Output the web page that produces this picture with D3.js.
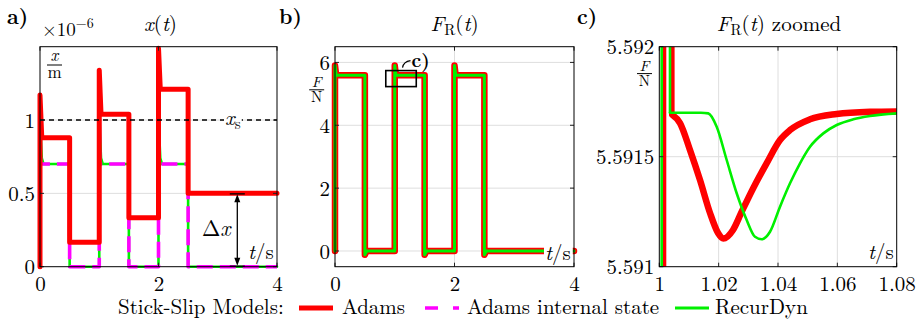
<!DOCTYPE html>
<html><head><meta charset="utf-8">
<script src="https://cdn.jsdelivr.net/npm/d3@7"></script>
</head><body style="margin:0;background:#fff">
<svg id="chart" width="923" height="324" font-family="Latin Modern Roman" style="display:block"></svg>
<script>
// ---------------- DATA ----------------
// Panel a: displacement x(t) in 1e-6 m
const adamsX = [[0,0],[0,1.17],[0.03,0.88],[0.5,0.88],[0.5,0.166],[1.0,0.166],[1.0,1.34],[1.03,1.04],[1.5,1.04],[1.5,0.334],[2.0,0.334],[2.0,1.49],[2.03,1.21],[2.5,1.21],[2.5,0.5],[4,0.5]];
const internalX = [[0,0],[0,1.0],[0.01,0.7],[0.5,0.7],[0.5,0],[1.0,0],[1.0,1.0],[1.01,0.7],[1.5,0.7],[1.5,0],[2.0,0],[2.0,1.0],[2.01,0.7],[2.5,0.7],[2.5,0],[4,0]];
const recurX = [[0,0],[0,1.17],[0.01,0.92],[0.03,0.74],[0.06,0.7],[0.5,0.7],[0.5,0],[1.0,0],[1.0,1.17],[1.01,0.92],[1.03,0.74],[1.06,0.7],[1.5,0.7],[1.5,0],[2.0,0],[2.0,1.17],[2.01,0.92],[2.03,0.74],[2.06,0.7],[2.5,0.7],[2.5,0],[4,0]];
const xsValue = 1;          // stick threshold x_s
const deltaXAt = 3.33;      // t position of the Delta x arrow
const deltaXRange = [0.5, 0];

// Panel b: friction force F_R(t) in N
const adamsF = [[0,0],[0,5.9],[0.02,5.59],[0.5,5.59],[0.5,-0.12],[0.53,0],[1.0,0],[1.0,5.9],[1.02,5.59],[1.5,5.59],[1.5,-0.12],[1.53,0],[2.0,0],[2.0,5.9],[2.02,5.59],[2.5,5.59],[2.5,-0.12],[2.53,0],[4,0]];
const recurF = [[0,0],[0,5.9],[0.02,5.59],[0.5,5.59],[0.5,-0.12],[0.53,0],[1.0,0],[1.0,5.9],[1.02,5.59],[1.5,5.59],[1.5,-0.12],[1.53,0],[2.0,0],[2.0,5.9],[2.02,5.59],[2.5,5.59],[2.5,-0.12],[2.53,0],[4,0]];
const zoomBox = {t: [0.85, 1.36], f: [5.23, 5.74]};

// Panel c: zoomed F_R(t)
const adamsCJump = [[1.0016,0],[1.0016,5.9],[1.0044,5.9],[1.0044,5.59169]];
const adamsCCurve = [[1.0044,5.59169],[1.00698,5.591653],[1.01035,5.59153],[1.01372,5.591394],[1.01709,5.591244],[1.01979,5.591153],[1.02157,5.591128],[1.02484,5.591167],[1.02777,5.59125],[1.03168,5.591358],[1.0362,5.591471],[1.04068,5.591576],[1.04405,5.591621],[1.05079,5.59167],[1.05979,5.591694],[1.07101,5.591704],[1.08,5.591706]];
const recurCJump = [[1.0008,0],[1.0008,5.9],[1.0036,5.9],[1.0036,5.5917]];
const recurCCurve = [[1.0036,5.5917],[1.014,5.5917],[1.01651,5.591697],[1.01934,5.591636],[1.02271,5.591485],[1.02608,5.591334],[1.02945,5.591212],[1.03225,5.591136],[1.03451,5.591125],[1.03731,5.591159],[1.04068,5.591273],[1.04405,5.591379],[1.04742,5.59147],[1.05079,5.591545],[1.05527,5.591606],[1.05979,5.591644],[1.06538,5.59167],[1.07101,5.591685],[1.08,5.591697]];

// Ticks
const xTicksA = [0,2,4], xTickLabelsA = ["0","2","4"];
const yTicksA = [0,0.5,1], yTickLabelsA = ["0","0.5","1"];
const xTicksB = [0,2,4], xTickLabelsB = ["0","2","4"];
const yTicksB = [0,2,4,6], yTickLabelsB = ["0","2","4","6"];
const xTicksC = [1,1.02,1.04,1.06,1.08], xTickLabelsC = ["1","1.02","1.04","1.06","1.08"];
const yTicksC = [5.591,5.5915,5.592], yTickLabelsC = ["5.591","5.5915","5.592"];

const legendLabels = ["Adams","Adams internal state","RecurDyn"];
const legendTitle = "Stick-Slip Models:";

// ---------------- STYLE ----------------
const FONT = "Latin Modern Roman";
const RED = "#ff0000", MAG = "#ff00ff", GRN = "#00f000";
const GRID = "#dedede";
const FS = 21;

const svg = d3.select("#chart");

function txt(parent, x, y, size){
  return parent.append("text").attr("x", x).attr("y", y).attr("font-family", FONT).attr("font-size", size || FS).attr("fill", "#000");
}

function panel(o){
  const g = svg.append("g");
  const x = d3.scaleLinear().domain(o.xd).range([o.l, o.r]);
  const y = d3.scaleLinear().domain(o.yd).range([o.b, o.t]);
  const id = "clip" + Math.random().toString(36).slice(2);
  svg.append("clipPath").attr("id", id).append("rect")
    .attr("x", o.l).attr("y", o.t).attr("width", o.r - o.l).attr("height", o.b - o.t);
  const grid = g.append("g");
  (o.xGrid||[]).forEach(v => grid.append("line").attr("x1", x(v)).attr("x2", x(v)).attr("y1", o.t).attr("y2", o.b).attr("stroke", GRID).attr("stroke-width", 1));
  (o.yGrid||[]).forEach(v => grid.append("line").attr("y1", y(v)).attr("y2", y(v)).attr("x1", o.l).attr("x2", o.r).attr("stroke", GRID).attr("stroke-width", 1));
  const data = g.append("g");
  return {g, data, x, y, o, clip: "url(#" + id + ")"};
}

function frame(p){
  const {x, y, o} = p;
  const f = svg.append("g");
  const tl = 4;
  const ax = d3.axisBottom(x).tickValues(o.xt).tickFormat((d,i)=>o.xtl[i]).tickSize(0).tickPadding(0);
  const axg = f.append("g").attr("transform", `translate(0,${o.b})`).call(ax)
    .attr("font-family", FONT).attr("font-size", FS);
  axg.select(".domain").remove();
  axg.selectAll("text").attr("y", 24).attr("dy", null).attr("fill", "#000");
  const ay = d3.axisLeft(y).tickValues(o.yt).tickFormat((d,i)=>o.ytl[i]).tickSize(0).tickPadding(0);
  const ayg = f.append("g").attr("transform", `translate(${o.l},0)`).call(ay)
    .attr("font-family", FONT).attr("font-size", FS);
  ayg.select(".domain").remove();
  ayg.selectAll("text").attr("x", -5).attr("dy", "0.34em").attr("fill", "#000");
  o.xt.forEach(v => {
    f.append("line").attr("x1", x(v)).attr("x2", x(v)).attr("y1", o.b).attr("y2", o.b - tl).attr("stroke", "#222");
    f.append("line").attr("x1", x(v)).attr("x2", x(v)).attr("y1", o.t).attr("y2", o.t + tl).attr("stroke", "#222");
  });
  o.yt.forEach(v => {
    f.append("line").attr("y1", y(v)).attr("y2", y(v)).attr("x1", o.l).attr("x2", o.l + tl).attr("stroke", "#222");
    f.append("line").attr("y1", y(v)).attr("y2", y(v)).attr("x1", o.r).attr("x2", o.r - tl).attr("stroke", "#222");
  });
  f.append("rect").attr("x", o.l).attr("y", o.t).attr("width", o.r - o.l).attr("height", o.b - o.t)
    .attr("fill", "none").attr("stroke", "#000").attr("stroke-width", 1);
  return f;
}

const lineGen = (p, curve) => d3.line().x(d => p.x(d[0])).y(d => p.y(d[1])).curve(curve || d3.curveLinear);

function drawLine(p, parent, arr, color, w, dash, curve){
  const path = parent.append("path").attr("d", lineGen(p, curve)(arr))
    .attr("fill", "none").attr("stroke", color).attr("stroke-width", w)
    .attr("stroke-linejoin", "round").attr("stroke-linecap", dash ? "butt" : "round");
  if (dash) path.attr("stroke-dasharray", dash);
  return path;
}

// stacked fraction as one text element (numerator and denominator tspans)
function fraction(cx, num, den, numBase, barY, denBase, width, size){
  const t = txt(svg, cx, numBase, size).attr("text-anchor", "middle");
  t.append("tspan").attr("x", cx).attr("y", numBase).attr("font-style", "italic").text(num);
  t.append("tspan").attr("x", cx).attr("y", denBase).text(den);
  svg.append("line").attr("x1", cx - width/2).attr("x2", cx + width/2).attr("y1", barY).attr("y2", barY)
    .attr("stroke", "#000").attr("stroke-width", 1);
}

function tsLabel(parent, x, y, bg){
  const g = parent.append("g");
  const t = txt(g, x, y);
  t.append("tspan").attr("font-style", "italic").text("t");
  t.append("tspan").text("/s");
  if (bg){
    const bb = t.node().getBBox();
    g.insert("rect", "text").attr("x", bb.x - 1).attr("y", bb.y + 2).attr("width", bb.width + 3).attr("height", bb.height - 4).attr("fill", "#fff");
  }
  return t;
}

function titleFR(cx, extra){
  const tt = txt(svg, cx, 31).attr("text-anchor", "middle");
  tt.append("tspan").attr("font-style", "italic").text("F");
  tt.append("tspan").attr("dy", 4).attr("font-size", 15).text("R");
  tt.append("tspan").attr("dy", -4).text("(");
  tt.append("tspan").attr("font-style", "italic").text("t");
  tt.append("tspan").text(")" + (extra || ""));
}

// ---------------- PANEL A ----------------
const pa = panel({l: 40, r: 277, t: 46.7, b: 266.7, xd: [0,4], yd: [0,1.5],
  xt: xTicksA, xtl: xTickLabelsA, yt: yTicksA, ytl: yTickLabelsA, yGrid: [0.5, 1], xGrid: [2]});
drawLine(pa, pa.data, recurX, GRN, 2.6);
drawLine(pa, pa.data, internalX, MAG, 3.6, "16,7");
drawLine(pa, pa.data, adamsX, RED, 5);
pa.data.append("line").attr("x1", pa.x(0)).attr("x2", pa.x(4)).attr("y1", pa.y(xsValue)).attr("y2", pa.y(xsValue))
  .attr("stroke", "#000").attr("stroke-width", 1.4).attr("stroke-dasharray", "5,4");
{
  const lg = pa.data.append("g");
  const t = txt(lg, 225, pa.y(xsValue) + 5);
  t.append("tspan").attr("font-style", "italic").text("x");
  t.append("tspan").attr("dy", 4).attr("font-size", 15).text("s");
  const bb = t.node().getBBox();
  lg.insert("rect", "text").attr("x", bb.x - 1).attr("y", pa.y(xsValue) - 3).attr("width", bb.width + 2).attr("height", 6).attr("fill", "#fff");
}
{
  const ax = pa.x(deltaXAt), y0 = pa.y(deltaXRange[0]), y1 = pa.y(deltaXRange[1]);
  const a = pa.data.append("g");
  a.append("line").attr("x1", ax).attr("x2", ax).attr("y1", y0 + 6).attr("y2", y1 - 6).attr("stroke", "#000").attr("stroke-width", 1.3);
  a.append("path").attr("d", `M${ax},${y0+1}L${ax-3},${y0+9}L${ax+3},${y0+9}Z`).attr("fill", "#000");
  a.append("path").attr("d", `M${ax},${y1-1}L${ax-3},${y1-9}L${ax+3},${y1-9}Z`).attr("fill", "#000");
  a.append("line").attr("x1", ax - 7.5).attr("x2", ax + 7.5).attr("y1", y0 + 0.5).attr("y2", y0 + 0.5).attr("stroke", "#000").attr("stroke-width", 1.3);
  a.append("line").attr("x1", ax - 7.5).attr("x2", ax + 7.5).attr("y1", y1 - 0.5).attr("y2", y1 - 0.5).attr("stroke", "#000").attr("stroke-width", 1.3);
  const t = txt(a, 202, 236, 22);
  t.append("tspan").text("Δ");
  t.append("tspan").attr("font-style", "italic").text("x");
}
frame(pa);
tsLabel(svg, 248, 259, false);
fraction(54.5, "x", "m", 60.5, 65, 78.3, 15, 17);
{
  const t = txt(svg, 42, 36, 19);
  t.append("tspan").text("×10");
  t.append("tspan").attr("dy", -8).attr("font-size", 14).text("−6");
  const tt = txt(svg, (pa.o.l + pa.o.r)/2 + 2, 31).attr("text-anchor", "middle");
  tt.append("tspan").attr("font-style", "italic").text("x");
  tt.append("tspan").text("(");
  tt.append("tspan").attr("font-style", "italic").text("t");
  tt.append("tspan").text(")");
  txt(svg, 7, 24).attr("font-weight", "bold").text("a)");
}

// ---------------- PANEL B ----------------
const pb = panel({l: 335, r: 574, t: 46.7, b: 266.7, xd: [0,4], yd: [-0.5,6.5],
  xt: xTicksB, xtl: xTickLabelsB, yt: yTicksB, ytl: yTickLabelsB, yGrid: [0,2,4,6], xGrid: [2]});
drawLine(pb, pb.data, adamsF, RED, 6.5);
drawLine(pb, pb.data, recurF, GRN, 3);
frame(pb);
tsLabel(svg, 545, 260, true);
svg.append("rect").attr("x", pb.x(zoomBox.t[0])).attr("y", pb.y(zoomBox.f[1]))
  .attr("width", pb.x(zoomBox.t[1]) - pb.x(zoomBox.t[0])).attr("height", pb.y(zoomBox.f[0]) - pb.y(zoomBox.f[1]))
  .attr("fill", "none").attr("stroke", "#000").attr("stroke-width", 1.6);
{
  const bx = pb.x(1.13), by = pb.y(zoomBox.f[1]) - 3;
  svg.append("path").attr("d", `M${bx},${by} Q${bx+1},${by-6} ${bx+8},${by-7}`).attr("fill", "none").attr("stroke", "#000").attr("stroke-width", 1.2);
  txt(svg, bx + 9, by - 1, 19).attr("font-weight", "bold").text("c)");
}
fraction(316.7, "F", "N", 87, 89.8, 101.5, 15, 15);
titleFR((pb.o.l + pb.o.r)/2);
txt(svg, 279, 24).attr("font-weight", "bold").text("b)");

// ---------------- PANEL C ----------------
const pc = panel({l: 659.3, r: 896.7, t: 46.7, b: 266.7, xd: [1,1.08], yd: [5.591,5.592],
  xt: xTicksC, xtl: xTickLabelsC, yt: yTicksC, ytl: yTickLabelsC, yGrid: [5.5915], xGrid: [1.02,1.04,1.06]});
const cg = pc.data.append("g").attr("clip-path", pc.clip);
drawLine(pc, cg, adamsCJump, RED, 4.5);
drawLine(pc, cg, recurCJump, GRN, 2.6);
drawLine(pc, cg, adamsCCurve, RED, 6.5, null, d3.curveMonotoneX);
drawLine(pc, cg, recurCCurve, GRN, 2.6, null, d3.curveMonotoneX);
frame(pc);
tsLabel(svg, 868, 259, false);
fraction(644.5, "F", "N", 71, 73.6, 85.5, 15, 15);
titleFR((pc.o.l + pc.o.r)/2 + 1, " zoomed");
txt(svg, 577, 24).attr("font-weight", "bold").text("c)");

// ---------------- LEGEND ----------------
{
  const lg = svg.append("g");
  const base = 314, ly = 308;
  txt(lg, 118, base).text(legendTitle);
  const items = [
    {x0: 299, x1: 333, tx: 342, color: RED, w: 5, dash: null},
    {x0: 425, x1: 459, tx: 467, color: MAG, w: 3.6, dash: "13,15"},
    {x0: 675, x1: 709, tx: 715, color: GRN, w: 3, dash: null}
  ];
  items.forEach((it, i) => {
    const l = lg.append("line").attr("x1", it.x0).attr("x2", it.x1).attr("y1", ly).attr("y2", ly)
      .attr("stroke", it.color).attr("stroke-width", it.w);
    if (it.dash) l.attr("stroke-dasharray", it.dash);
    txt(lg, it.tx, base).text(legendLabels[i]);
  });
}
</script>
</body></html>
